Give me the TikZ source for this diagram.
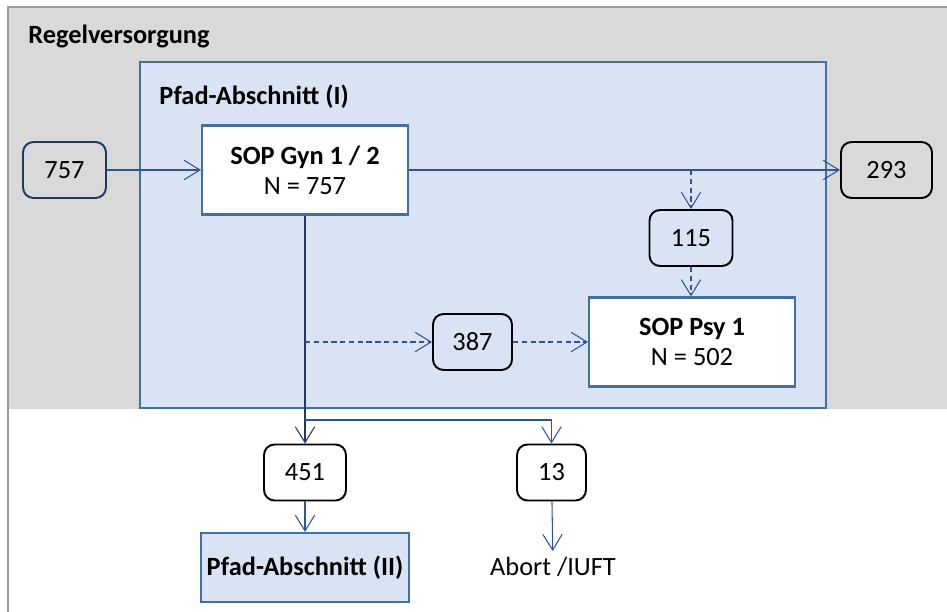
\documentclass[tikz,border=0pt]{standalone}
\usepackage{fontspec}
\setmainfont{Carlito}
\usetikzlibrary{arrows.meta,positioning}

\definecolor{regelgray}{HTML}{D9D9D9}
\definecolor{framegray}{HTML}{9A9A9A}
\definecolor{pfadfill}{HTML}{DAE3F3}
\definecolor{pfadline}{HTML}{41719C}
\definecolor{flowblue}{HTML}{2F5597}
\definecolor{navy}{HTML}{1F3864}

\begin{document}
\begin{tikzpicture} [x=0.02cm,y=-0.02cm,>={Straight Barb[length=9pt,width=11pt]},
  every node/.style={font=\fontsize{15}{17}\selectfont},
  count/.style={draw=black,line width=1.1pt,rounded corners=6pt,minimum height=1.12cm,minimum width=#1},
  count/.default=1.66cm,
  sop/.style={draw=pfadline,fill=white,line width=1.2pt,minimum width=4.12cm,minimum height=1.78cm,align=center},
  flow/.style={->,flowblue,line width=0.6pt},
  dflow/.style={flow,dash pattern=on 3pt off 2pt}]

  \useasboundingbox (0,0) rectangle (947,612);

  % Regelversorgung und Pfad-Abschnitt (I)
  \fill[regelgray] (9,8) rectangle (947,409);
  \draw[framegray,line width=1.2pt] (8,612) |- (947,7);
  \draw[pfadline,fill=pfadfill,line width=1.2pt] (140,62) rectangle (826,408);
  \node[anchor=west,inner sep=0pt,font=\fontsize{15}{17}\selectfont\bfseries] (regel) at (28,36) {Regelversorgung};
  \node[anchor=west,inner sep=0pt,font=\fontsize{15}{17}\selectfont\bfseries] (pfadlabel) at (159,97) {Pfad-Abschnitt (I)};

  \node[count,draw=navy] (n757) at (64.5,170) {757};
  \node[sop] (gyn) at (305,170) {\textbf{SOP Gyn 1 / 2}\\N = 757};
  \node[count=1.82cm] (n293) at (886.5,170) {293};
  \node[count] (n115) at (691,238) {115};
  \node[sop] (psy) at (692,342) {\textbf{SOP Psy 1}\\N = 502};
  \node[count=1.58cm] (n387) at (472.5,342) {387};
  \node[count=1.64cm] (n451) at (305,472.5) {451};
  \node[count=1.38cm] (n13) at (551.5,472.5) {13};
  \node[sop,fill=pfadfill,minimum height=1.38cm] (pfad2) at (305,567.5) {\textbf{Pfad-Abschnitt (II)}};
  \node (abort) at (553,567) {Abort /IUFT};

  \coordinate (split) at (691,170);
  \coordinate (tap) at (305,342);
  \coordinate (fork) at (305,420);

  \draw[flow] (n757) -- (gyn);
  \draw[flow] (gyn) -- (n293);
  \draw[dflow] (split) -- (n115);
  \draw[dflow] (n115) -- (psy.north -| n115);
  \draw[flow,navy] (gyn) -- (n451);
  \draw[flow] (fork) -| (n13);
  \draw[dflow] (tap) -- (n387);
  \draw[dflow] (n387) -- (psy);
  \draw[flow] (n451) -- (pfad2);
  \draw[flow] (n13) -- (abort);
\end{tikzpicture}
\end{document}
